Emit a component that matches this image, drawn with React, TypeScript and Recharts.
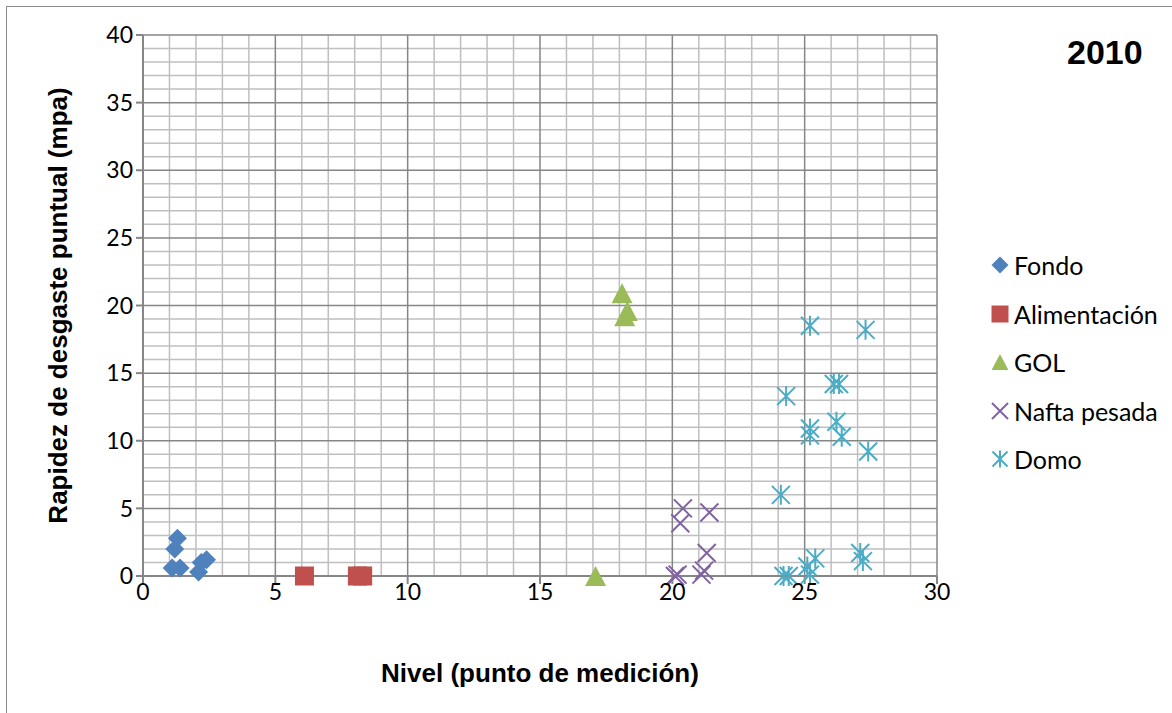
import React from 'react';
import { ScatterChart, Scatter, XAxis, YAxis, ReferenceLine, Legend } from 'recharts';

// Nivel (x) and rapidez de desgaste (y) for each zone
const fondoNivel = [1.3, 1.2, 1.1, 1.4, 2.2, 2.4, 2.1];
const fondoRapidez = [2.8, 2.0, 0.6, 0.6, 1.0, 1.2, 0.3];

const alimentacionNivel = [6.1, 8.1, 8.3];
const alimentacionRapidez = [0, 0, 0];

const golNivel = [18.1, 18.3, 18.2, 17.1];
const golRapidez = [20.9, 19.6, 19.2, 0];

const naftaNivel = [20.4, 20.3, 21.4, 21.3, 21.2, 21.1, 20.1, 20.2];
const naftaRapidez = [5.0, 3.9, 4.7, 1.7, 0.4, 0.1, 0, 0.1];

const domoNivel = [25.2, 27.3, 26.1, 26.3, 24.3, 26.2, 25.2, 25.2, 26.4, 27.4, 24.1, 25.4, 27.1, 27.2, 25.1, 25.2, 24.2, 24.4];
const domoRapidez = [18.5, 18.2, 14.2, 14.2, 13.3, 11.4, 10.9, 10.4, 10.3, 9.2, 6.0, 1.3, 1.7, 1.1, 0.7, 0.1, 0, 0];

const xTicks = [0, 5, 10, 15, 20, 25, 30];
const yTicks = [0, 5, 10, 15, 20, 25, 30, 35, 40];

const xMinor = Array.from({ length: 31 }, (_, i) => i).filter((v) => v % 5 !== 0);
const yMinor = Array.from({ length: 41 }, (_, i) => i).filter((v) => v % 5 !== 0);

const toPoints = (xs: number[], ys: number[]) => xs.map((x, i) => ({ x, y: ys[i] }));

const BLUE = '#4F81BD';
const RED = '#C0504D';
const GREEN = '#9BBB59';
const PURPLE = '#8064A2';
const TEAL = '#4BACC6';

const MINOR = '#BFBFBF';
const MAJOR = '#868686';

const LABEL_FONT = 'Lato, "Liberation Sans", sans-serif';
const TITLE_FONT = '"Liberation Sans", Arial, sans-serif';

// marker drawers, shared by the plot and the legend
const drawDiamond = (cx: number, cy: number, r: number, c: string) => (
  <path d={`M${cx},${cy - r}L${cx + r},${cy}L${cx},${cy + r}L${cx - r},${cy}Z`} fill={c} />
);
const drawSquare = (cx: number, cy: number, r: number, c: string) => (
  <rect x={cx - r} y={cy - r} width={2 * r} height={2 * r} fill={c} />
);
const drawTriangle = (cx: number, cy: number, r: number, c: string) => (
  <path d={`M${cx},${cy - r}L${cx + r * 1.05},${cy + r}L${cx - r * 1.05},${cy + r}Z`} fill={c} />
);
const drawX = (cx: number, cy: number, r: number, c: string) => (
  <path
    d={`M${cx - r},${cy - r}L${cx + r},${cy + r}M${cx + r},${cy - r}L${cx - r},${cy + r}`}
    stroke={c}
    strokeWidth={2}
    fill="none"
  />
);
const drawStar = (cx: number, cy: number, r: number, c: string) => (
  <path
    d={`M${cx - r},${cy - r}L${cx + r},${cy + r}M${cx + r},${cy - r}L${cx - r},${cy + r}M${cx},${cy - r - 1}L${cx},${cy + r + 1}`}
    stroke={c}
    strokeWidth={2}
    fill="none"
  />
);

type Drawer = (cx: number, cy: number, r: number, c: string) => React.ReactElement;

const series: { name: string; color: string; draw: Drawer; size: number; data: { x: number; y: number }[] }[] = [
  { name: 'Fondo', color: BLUE, draw: drawDiamond, size: 9.5, data: toPoints(fondoNivel, fondoRapidez) },
  { name: 'Alimentación', color: RED, draw: drawSquare, size: 9.5, data: toPoints(alimentacionNivel, alimentacionRapidez) },
  { name: 'GOL', color: GREEN, draw: drawTriangle, size: 10, data: toPoints(golNivel, golRapidez) },
  { name: 'Nafta pesada', color: PURPLE, draw: drawX, size: 9, data: toPoints(naftaNivel, naftaRapidez) },
  { name: 'Domo', color: TEAL, draw: drawStar, size: 9, data: toPoints(domoNivel, domoRapidez) },
];

const legendIconSize: Record<string, number> = {
  Fondo: 8.5,
  'Alimentación': 8.5,
  GOL: 8,
  'Nafta pesada': 8,
  Domo: 7.5,
};

const LegendBox = () => (
  <div style={{ fontFamily: LABEL_FONT, fontSize: 25, color: '#000' }}>
    {series.map((s) => (
      <div key={s.name} style={{ display: 'flex', alignItems: 'center', height: 48.5 }}>
        <svg width={20} height={20} style={{ marginRight: 4 }}>
          {s.draw(10, 10, legendIconSize[s.name], s.color)}
        </svg>
        <span>{s.name}</span>
      </div>
    ))}
  </div>
);

export default function App() {
  return (
    <div
      style={{
        position: 'absolute',
        left: 0,
        top: 0,
        width: 1172,
        height: 713,
        overflow: 'hidden',
        background: '#fff',
      }}
    >
      <div
        style={{
          position: 'absolute',
          left: 6,
          top: 6,
          width: 1180,
          height: 720,
          border: '1.5px solid #8a8a8a',
          boxSizing: 'border-box',
        }}
      />
      <div
        style={{
          position: 'absolute',
          left: 1067,
          top: 35,
          fontFamily: TITLE_FONT,
          fontWeight: 'bold',
          fontSize: 34,
          lineHeight: 1,
        }}
      >
        2010
      </div>
      <ScatterChart width={1172} height={713} margin={{ top: 35, right: 235, bottom: 27, left: 43 }}>
        {xMinor.map((v) => (
          <ReferenceLine key={`xm${v}`} x={v} stroke={MINOR} strokeWidth={1.5} />
        ))}
        {yMinor.map((v) => (
          <ReferenceLine key={`ym${v}`} y={v} stroke={MINOR} strokeWidth={1.5} />
        ))}
        {xTicks.map((v) => (
          <ReferenceLine key={`xM${v}`} x={v} stroke={MAJOR} strokeWidth={1.5} />
        ))}
        {yTicks.map((v) => (
          <ReferenceLine key={`yM${v}`} y={v} stroke={MAJOR} strokeWidth={1.5} />
        ))}
        <XAxis
          type="number"
          dataKey="x"
          domain={[0, 30]}
          ticks={xTicks}
          height={110}
          tickSize={8}
          tickMargin={0}
          axisLine={{ stroke: MAJOR, strokeWidth: 2 }}
          tickLine={{ stroke: MAJOR, strokeWidth: 2 }}
          tick={{ fill: '#000', fontSize: 23, fontFamily: LABEL_FONT }}
          label={{
            value: 'Nivel (punto de medición)',
            position: 'insideBottom',
            offset: 4,
            style: { fontFamily: TITLE_FONT, fontWeight: 'bold', fontSize: 26, fill: '#000' },
          }}
        />
        <YAxis
          type="number"
          dataKey="y"
          domain={[0, 40]}
          ticks={yTicks}
          width={100}
          tickSize={7}
          tickMargin={3}
          axisLine={{ stroke: MAJOR, strokeWidth: 2 }}
          tickLine={{ stroke: MAJOR, strokeWidth: 2 }}
          tick={{ fill: '#000', fontSize: 23, fontFamily: LABEL_FONT }}
          label={{
            value: 'Rapidez de desgaste puntual (mpa)',
            angle: -90,
            position: 'insideLeft',
            offset: 15,
            style: { textAnchor: 'middle', fontFamily: TITLE_FONT, fontWeight: 'bold', fontSize: 26, fill: '#000' },
          }}
        />
        {series.map((s) => (
          <Scatter
            key={s.name}
            name={s.name}
            data={s.data}
            fill={s.color}
            isAnimationActive={false}
            shape={(p: any) => s.draw(p.cx, p.cy, s.size, s.color)}
          />
        ))}
        <Legend
          layout="vertical"
          align="center"
          verticalAlign="middle"
          wrapperStyle={{ left: 990, top: 241, width: 182 }}
          content={() => <LegendBox />}
        />
      </ScatterChart>
    </div>
  );
}
